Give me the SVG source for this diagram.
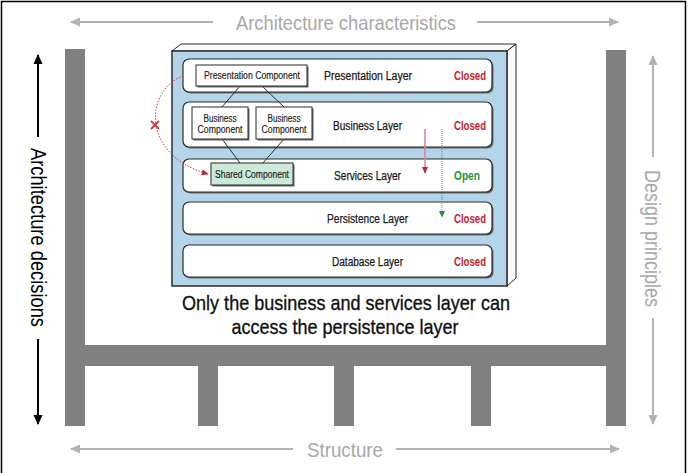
<svg xmlns="http://www.w3.org/2000/svg" width="690" height="473" viewBox="0 0 690 473">
<defs>
<style>
.t{font-family:"Liberation Sans",Arial,sans-serif;text-anchor:middle}
.lbl{font-size:12px;fill:#1a1a1a;stroke:#1a1a1a;stroke-width:0.25}
.cmp{font-size:10px;fill:#1a1a1a;stroke:#1a1a1a;stroke-width:0.15}
.closed{font-size:13px;font-weight:bold;fill:#c8202f;text-anchor:end}
.open{font-size:13px;font-weight:bold;fill:#1a9641;text-anchor:end}
.big{font-size:21px;fill:#111;stroke:#111;stroke-width:0.35}
.grey{font-size:21px;fill:#a8a8a8}
.side{font-size:22px}
.layer{fill:#fff;stroke:#2b2b2b;stroke-width:1.2}
.shadow{fill:#6a6a6a}
.box{fill:#fff;stroke:#2b2b2b;stroke-width:1}
.beam{fill:#808080}
.garrow{stroke:#b3b3b3;stroke-width:2;fill:none}
.karrow{stroke:#000;stroke-width:2;fill:none}
</style>
<marker id="hg" viewBox="0 0 10 10" refX="9" refY="5" markerUnits="userSpaceOnUse" markerWidth="10" markerHeight="10" orient="auto"><path d="M0,0.5 L10,5 L0,9.5 z" fill="#b3b3b3"/></marker>
<marker id="hk" viewBox="0 0 10 10" refX="9" refY="5" markerUnits="userSpaceOnUse" markerWidth="10" markerHeight="10" orient="auto"><path d="M0,0.5 L10,5 L0,9.5 z" fill="#000"/></marker>
<marker id="hr" viewBox="0 0 10 10" refX="9" refY="5" markerUnits="userSpaceOnUse" markerWidth="7" markerHeight="7" orient="auto"><path d="M0,0.5 L10,5 L0,9.5 z" fill="#c8202f"/></marker>
<marker id="hgr" viewBox="0 0 10 10" refX="9" refY="5" markerUnits="userSpaceOnUse" markerWidth="7" markerHeight="7" orient="auto"><path d="M0,0.5 L10,5 L0,9.5 z" fill="#1a9641"/></marker>
</defs>
<rect width="690" height="473" fill="#fff"/>
<path d="M1.5,473 V1.5 H685.5 V473" fill="none" stroke="#000" stroke-width="1.5"/>

<g id="structure">
<rect class="beam" x="65" y="49" width="20" height="377"/>
<rect class="beam" x="606" y="50" width="20" height="376"/>
<rect class="beam" x="85" y="345" width="521" height="21"/>
<rect class="beam" x="198" y="366" width="20" height="60"/>
<rect class="beam" x="334" y="366" width="20" height="60"/>
<rect class="beam" x="471" y="366" width="20" height="60"/>
</g>

<g id="axis-top">
<line class="garrow" x1="213" y1="22" x2="71" y2="22" marker-end="url(#hg)"/>
<line class="garrow" x1="477" y1="22" x2="618" y2="22" marker-end="url(#hg)"/>
<text class="t grey" x="346" y="29.5" textLength="220" lengthAdjust="spacingAndGlyphs">Architecture characteristics</text>
</g>
<g id="axis-bottom">
<line class="garrow" x1="293" y1="449" x2="71" y2="449" marker-end="url(#hg)"/>
<line class="garrow" x1="396" y1="449" x2="619" y2="449" marker-end="url(#hg)"/>
<text class="t grey" x="345" y="457" textLength="76" lengthAdjust="spacingAndGlyphs">Structure</text>
</g>
<g id="axis-left">
<line class="karrow" x1="38" y1="137" x2="38" y2="55" marker-end="url(#hk)"/>
<line class="karrow" x1="38" y1="339" x2="38" y2="424" marker-end="url(#hk)"/>
<text class="t side" fill="#000" transform="translate(38.5,237.5) rotate(90)" x="0" y="8" textLength="179" lengthAdjust="spacingAndGlyphs">Architecture decisions</text>
</g>
<g id="axis-right">
<line class="garrow" x1="653" y1="157" x2="653" y2="56" marker-end="url(#hg)"/>
<line class="garrow" x1="653" y1="318" x2="653" y2="424" marker-end="url(#hg)"/>
<text class="t side" fill="#a8a8a8" transform="translate(653,238.5) rotate(90)" x="0" y="8" textLength="137" lengthAdjust="spacingAndGlyphs">Design principles</text>
</g>

<g id="container">
<polygon points="172,51 181,44 516,44 507,51" fill="#fafafa" stroke="#2b2b2b" stroke-width="1"/>
<polygon points="507,51 516,44 516,278 507,286" fill="#fafafa" stroke="#2b2b2b" stroke-width="1"/>
<rect x="172" y="51" width="335" height="235" fill="#b4d4ea" stroke="#2b2b2b" stroke-width="1.5"/>
</g>

<g id="presentation-layer">
<rect class="shadow" x="184.5" y="60.5" width="309" height="33" rx="6"/>
<rect class="layer" x="183" y="59" width="309" height="33" rx="6"/>
<text class="t lbl" x="368" y="79.5" textLength="88" lengthAdjust="spacingAndGlyphs">Presentation Layer</text>
<text class="t closed" x="486" y="80" textLength="32" lengthAdjust="spacingAndGlyphs">Closed</text>
</g>
<g id="business-layer">
<rect class="shadow" x="184.5" y="103.5" width="309" height="45" rx="6"/>
<rect class="layer" x="183" y="102" width="309" height="45" rx="6"/>
<text class="t lbl" x="367.5" y="129.5" textLength="69" lengthAdjust="spacingAndGlyphs">Business Layer</text>
<text class="t closed" x="486" y="130" textLength="32" lengthAdjust="spacingAndGlyphs">Closed</text>
</g>
<g id="services-layer">
<rect class="shadow" x="184.5" y="160.5" width="309" height="33" rx="6"/>
<rect class="layer" x="183" y="159" width="309" height="33" rx="6"/>
<text class="t lbl" x="367.5" y="179.5" textLength="67" lengthAdjust="spacingAndGlyphs">Services Layer</text>
<text class="t open" x="480" y="180" textLength="26" lengthAdjust="spacingAndGlyphs">Open</text>
</g>
<g id="persistence-layer">
<rect class="shadow" x="184.5" y="203.5" width="309" height="32" rx="6"/>
<rect class="layer" x="183" y="202" width="309" height="32" rx="6"/>
<text class="t lbl" x="367.5" y="222.5" textLength="81" lengthAdjust="spacingAndGlyphs">Persistence Layer</text>
<text class="t closed" x="486" y="223" textLength="32" lengthAdjust="spacingAndGlyphs">Closed</text>
</g>
<g id="database-layer">
<rect class="shadow" x="184.5" y="246.5" width="309" height="32" rx="6"/>
<rect class="layer" x="183" y="245" width="309" height="32" rx="6"/>
<text class="t lbl" x="367.5" y="265.5" textLength="71" lengthAdjust="spacingAndGlyphs">Database Layer</text>
<text class="t closed" x="486" y="266" textLength="32" lengthAdjust="spacingAndGlyphs">Closed</text>
</g>

<g id="connectors">
<g stroke="#2b2b2b" stroke-width="1" fill="none">
<line x1="240" y1="86" x2="222" y2="107"/>
<line x1="262" y1="86" x2="284" y2="107"/>
<line x1="222" y1="139" x2="240" y2="163"/>
<line x1="284" y1="139" x2="263" y2="163"/>
</g>
<path d="M183,76 C145,90 140,155 208,174" fill="none" stroke="#d8343f" stroke-width="1" stroke-dasharray="1.5 1.5" marker-end="url(#hr)"/>
<g stroke="#d8343f" stroke-width="1.8">
<line x1="151" y1="121" x2="159" y2="129"/>
<line x1="159" y1="121" x2="151" y2="129"/>
</g>
<line x1="425" y1="129" x2="425" y2="173" stroke="#dc7d88" stroke-width="1.5" marker-end="url(#hr)"/>
<line x1="442" y1="129" x2="442" y2="217" stroke="#2aa35a" stroke-width="1" stroke-dasharray="1 1" marker-end="url(#hgr)"/>
</g>

<g id="presentation-component">
<rect class="shadow" x="197.5" y="66.5" width="111" height="21"/>
<rect class="box" x="196" y="65" width="111" height="21"/>
<text class="t cmp" x="252" y="79" textLength="96" lengthAdjust="spacingAndGlyphs">Presentation Component</text>
</g>
<g id="business-component-1">
<rect class="shadow" x="193.5" y="108.5" width="56" height="32"/>
<rect class="box" x="192" y="107" width="56" height="32"/>
<text class="t cmp" x="220" y="122" textLength="33" lengthAdjust="spacingAndGlyphs">Business</text>
<text class="t cmp" x="220" y="132.5" textLength="45" lengthAdjust="spacingAndGlyphs">Component</text>
</g>
<g id="business-component-2">
<rect class="shadow" x="257.5" y="108.5" width="56" height="32"/>
<rect class="box" x="256" y="107" width="56" height="32"/>
<text class="t cmp" x="284" y="122" textLength="33" lengthAdjust="spacingAndGlyphs">Business</text>
<text class="t cmp" x="284" y="132.5" textLength="45" lengthAdjust="spacingAndGlyphs">Component</text>
</g>
<g id="shared-component">
<rect class="shadow" x="212.5" y="164.5" width="82" height="22"/>
<rect x="211" y="163" width="82" height="22" fill="#cde9d9" stroke="#2b2b2b" stroke-width="1"/>
<text class="t cmp" x="252" y="178" textLength="74" lengthAdjust="spacingAndGlyphs">Shared Component</text>
</g>

<g id="caption">
<text class="t big" x="346" y="310" textLength="328" lengthAdjust="spacingAndGlyphs">Only the business and services layer can</text>
<text class="t big" x="345" y="334" textLength="227" lengthAdjust="spacingAndGlyphs">access the persistence layer</text>
</g>
</svg>
